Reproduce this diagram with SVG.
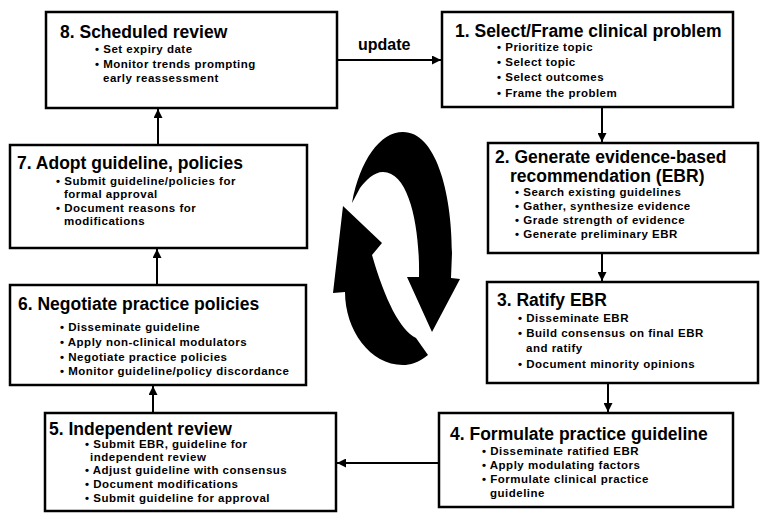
<svg xmlns="http://www.w3.org/2000/svg" width="767" height="514" viewBox="0 0 767 514">
<defs>
<style>
.box{fill:#fff;stroke:#000;stroke-width:2.5}
.t{font-family:"Liberation Sans",Arial,sans-serif;font-weight:bold;font-size:17.5px;fill:#000}
.b{font-family:"Liberation Sans",Arial,sans-serif;font-weight:bold;font-size:11.5px;letter-spacing:0.5px;fill:#000}
.c{stroke:#000;stroke-width:2;fill:none;marker-end:url(#ah)}
.lbl{font-family:"Liberation Sans",Arial,sans-serif;font-weight:bold;font-size:16px;fill:#000}
</style>
<marker id="ah" viewBox="0 0 10 10" refX="10" refY="5" markerWidth="4.5" markerHeight="4.5" orient="auto" markerUnits="strokeWidth">
<path d="M0,0 L10,5 L0,10 Z" fill="#000"/>
</marker>
</defs>
<rect width="767" height="514" fill="#fff"/>

<g id="connectors">
<line class="c" x1="337" y1="60" x2="441" y2="60"/>
<text class="lbl" x="358" y="50">update</text>
<line class="c" x1="602" y1="107" x2="602" y2="142"/>
<line class="c" x1="602" y1="253" x2="602" y2="281"/>
<line class="c" x1="608" y1="383" x2="608" y2="412"/>
<line class="c" x1="439" y1="463" x2="337" y2="463"/>
<line class="c" x1="153" y1="413" x2="153" y2="386"/>
<line class="c" x1="157" y1="285" x2="157" y2="249"/>
<line class="c" x1="158" y1="145" x2="158" y2="109"/>
</g>

<g id="cycle">
<path d="M352,203 C360,160 380,132 403,132 C435,132 452,190 452,253 L451,278 L460,279 L432,332 L407,277 L419,277 C420,230 410,172 383,172 C374,172 366,180 360,188 Z" fill="#000"/>
<path d="M343,206 L382,243 L372,255 C385,300 400,330 416,338 L428,355 C418,363 410,365 403,365 C370,365 345,330 345,292 L333,293 Z" fill="#000"/>
</g>

<g id="n8">
<rect class="box" x="46" y="12" width="291" height="96"/>
<text class="t" x="60" y="38">8. Scheduled review</text>
<text class="b" x="95" y="53">• Set expiry date</text>
<text class="b" x="95" y="68">• Monitor trends prompting</text>
<text class="b" x="103" y="82">early reassessment</text>
</g>

<g id="n1">
<rect class="box" x="442" y="12" width="291" height="95"/>
<text class="t" x="455" y="37">1. Select/Frame clinical problem</text>
<text class="b" x="497" y="51">• Prioritize topic</text>
<text class="b" x="497" y="66">• Select topic</text>
<text class="b" x="497" y="81">• Select outcomes</text>
<text class="b" x="497" y="97">• Frame the problem</text>
</g>

<g id="n2">
<rect class="box" x="488" y="143" width="270" height="110"/>
<text class="t" x="495" y="163">2. Generate evidence-based</text>
<text class="t" x="510" y="182">recommendation (EBR)</text>
<text class="b" x="515" y="196">• Search existing guidelines</text>
<text class="b" x="515" y="210">• Gather, synthesize evidence</text>
<text class="b" x="515" y="224">• Grade strength of evidence</text>
<text class="b" x="515" y="238">• Generate preliminary EBR</text>
</g>

<g id="n3">
<rect class="box" x="487" y="282" width="271" height="101"/>
<text class="t" x="497" y="306">3. Ratify EBR</text>
<text class="b" x="518" y="322">• Disseminate EBR</text>
<text class="b" x="518" y="337">• Build consensus on final EBR</text>
<text class="b" x="526" y="352">and ratify</text>
<text class="b" x="518" y="368">• Document minority opinions</text>
</g>

<g id="n4">
<rect class="box" x="439" y="413" width="294" height="94"/>
<text class="t" x="450" y="440">4. Formulate practice guideline</text>
<text class="b" x="482" y="455">• Disseminate ratified EBR</text>
<text class="b" x="482" y="469">• Apply modulating factors</text>
<text class="b" x="482" y="483">• Formulate clinical practice</text>
<text class="b" x="490" y="497">guideline</text>
</g>

<g id="n5">
<rect class="box" x="45" y="413" width="291" height="98"/>
<text class="t" x="49" y="435">5. Independent review</text>
<text class="b" x="85" y="448">• Submit EBR, guideline for</text>
<text class="b" x="90" y="461">independent review</text>
<text class="b" x="85" y="474">• Adjust guideline with consensus</text>
<text class="b" x="85" y="488">• Document modifications</text>
<text class="b" x="85" y="502">• Submit guideline for approval</text>
</g>

<g id="n6">
<rect class="box" x="10" y="285" width="296" height="100"/>
<text class="t" x="18" y="310">6. Negotiate practice policies</text>
<text class="b" x="60" y="331">• Disseminate guideline</text>
<text class="b" x="60" y="346">• Apply non-clinical modulators</text>
<text class="b" x="60" y="361">• Negotiate practice policies</text>
<text class="b" x="60" y="375">• Monitor guideline/policy discordance</text>
</g>

<g id="n7">
<rect class="box" x="10" y="145" width="297" height="103"/>
<text class="t" x="17" y="169">7. Adopt guideline, policies</text>
<text class="b" x="56" y="185">• Submit guideline/policies for</text>
<text class="b" x="64" y="198">formal approval</text>
<text class="b" x="56" y="212">• Document reasons for</text>
<text class="b" x="64" y="225">modifications</text>
</g>
</svg>
